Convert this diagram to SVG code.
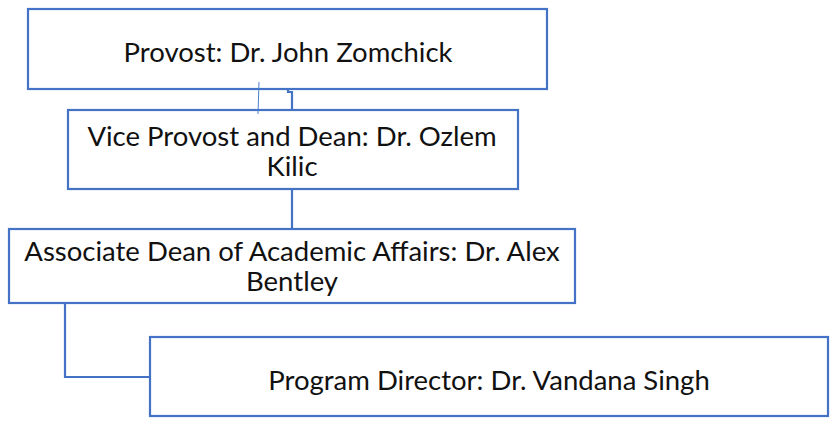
<svg xmlns="http://www.w3.org/2000/svg" width="830" height="421" viewBox="0 0 830 421">
  <style>
    .box { fill: #ffffff; stroke: #4472C4; stroke-width: 2.2; }
    .link { fill: none; stroke: #4472C4; stroke-width: 2.2; }
    .thin { fill: none; stroke: #4A7FD0; stroke-width: 1; }
    .label { font-family: Lato, "Liberation Sans", sans-serif; font-size: 27.5px; fill: #111111; text-anchor: middle; }
  </style>
  <rect width="830" height="421" fill="#ffffff"/>

  <g id="provost">
    <rect class="box" x="28" y="9" width="519" height="80"/>
    <text class="label" x="288" y="62">Provost: Dr. John Zomchick</text>
  </g>

  <g id="vice-provost">
    <rect class="box" x="68" y="110" width="450" height="79"/>
    <text class="label" x="292" y="146">Vice Provost and Dean: Dr. Ozlem</text>
    <text class="label" x="292" y="176">Kilic</text>
  </g>

  <g id="associate-dean">
    <rect class="box" x="9" y="229" width="566" height="74"/>
    <text class="label" x="292" y="261">Associate Dean of Academic Affairs: Dr. Alex</text>
    <text class="label" x="292" y="291">Bentley</text>
  </g>

  <g id="program-director">
    <rect class="box" x="150" y="337" width="678" height="79"/>
    <text class="label" x="489" y="390">Program Director: Dr. Vandana Singh</text>
  </g>

  <!-- connectors, drawn over the boxes -->
  <g id="connectors">
    <path class="link" d="M288 89 V92 H292 V110"/>
    <path class="thin" d="M259 82 L258 114"/>
    <path class="link" d="M292 189 V229"/>
    <path class="link" d="M65 303 V377 H150"/>
  </g>
</svg>
